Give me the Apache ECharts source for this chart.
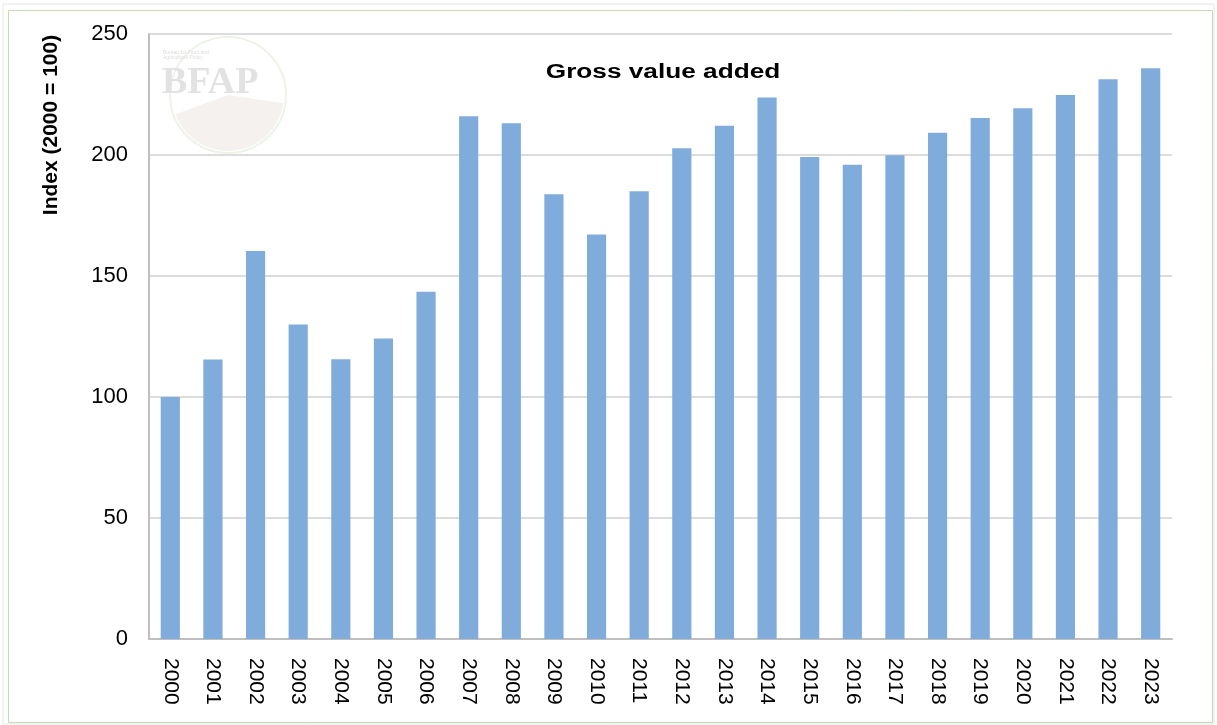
<!DOCTYPE html>
<html>
<head>
<meta charset="utf-8">
<script src="https://cdn.jsdelivr.net/npm/echarts@6/dist/echarts.min.js"></script>
<style>
  html, body { margin: 0; padding: 0; background: #fff; }
  #chart { width: 1217px; height: 725px; }
</style>
</head>
<body>
<div id="chart"></div>
<script>
// values
var years = ['2000', '2001', '2002', '2003', '2004', '2005', '2006', '2007', '2008', '2009', '2010', '2011',
  '2012', '2013', '2014', '2015', '2016', '2017', '2018', '2019', '2020', '2021', '2022', '2023'];
var gva = [100, 115.5, 160.3, 130, 115.6, 124.2, 143.5, 216, 213.1, 183.8, 167.2, 185,
  202.8, 212.1, 223.8, 199.2, 196, 199.9, 209.2, 215.3, 219.3, 224.8, 231.3, 235.8];

var chart = echarts.init(document.getElementById('chart'));
var option = {
  animation: false,
  backgroundColor: '#fff',
  grid: { left: 149, right: 45, top: 34, bottom: 86, containLabel: false },
  xAxis: {
    type: 'category',
    data: years,
    axisLine: { lineStyle: { color: '#bfbfbf', width: 2 } },
    axisTick: { show: false },
    axisLabel: {
      rotate: -90,
      margin: 19,
      color: '#000',
      fontFamily: 'Liberation Sans',
      fontSize: 21
    }
  },
  yAxis: {
    type: 'value',
    min: 0,
    max: 250,
    interval: 50,
    axisLine: { show: true, lineStyle: { color: '#bfbfbf', width: 2 } },
    axisTick: { show: false },
    splitLine: { lineStyle: { color: '#dcdcdc', width: 2 } },
    axisLabel: { margin: 21, color: '#000', fontFamily: 'Liberation Sans', fontSize: 22 }
  },
  series: [{
    type: 'bar',
    data: gva,
    barWidth: '45%',
    itemStyle: { color: '#80acdc' }
  }],
  graphic: [
    // frame
    { type: 'rect', shape: { x: 3, y: 4, width: 1211, height: 720 }, style: { fill: 'none', stroke: '#e6e6e6', lineWidth: 1 }, z: -10 },
    { type: 'rect', shape: { x: 8.5, y: 10.5, width: 1204, height: 712 }, style: { fill: 'none', stroke: '#c3dcb4', lineWidth: 1 }, z: -10 },
    // faint logo watermark
    { type: 'circle', shape: { cx: 228, cy: 95, r: 58 }, style: { fill: 'none', stroke: '#eef3ea', lineWidth: 2 }, z: -5 },
    { type: 'sector', shape: { cx: 228, cy: 95, r: 56, r0: 0, startAngle: 0.15, endAngle: Math.PI - 0.35 }, style: { fill: '#f4f1ee' }, z: -5 },
    { type: 'ellipse', shape: { cx: 252, cy: 42, rx: 14, ry: 7 }, rotation: 0.5, style: { fill: '#eef3ea' }, z: -5 },
    { type: 'text', left: 162, top: 64, style: { text: 'BFAP', font: 'bold 38px "Liberation Serif"', fill: '#e2e2e2' }, z: -4 },
    { type: 'text', left: 163, top: 50, style: { text: 'Bureau for Food and\nAgricultural Policy', font: '5px "Liberation Sans"', fill: '#dddddd' }, z: -4 },
    // title
    {
      type: 'text',
      x: 663,
      y: 72,
      scaleX: 1.31,
      style: {
        text: 'Gross value added',
        font: 'bold 20px "Liberation Sans"',
        fill: '#000',
        align: 'center',
        verticalAlign: 'middle'
      }
    },
    // y axis name
    {
      type: 'text',
      x: 51,
      y: 125,
      rotation: Math.PI / 2,
      style: {
        text: 'Index (2000 = 100)',
        font: 'bold 21px "Liberation Sans"',
        fill: '#000',
        align: 'center',
        verticalAlign: 'middle'
      }
    }
  ]
};
chart.setOption(option);
</script>
</body>
</html>
